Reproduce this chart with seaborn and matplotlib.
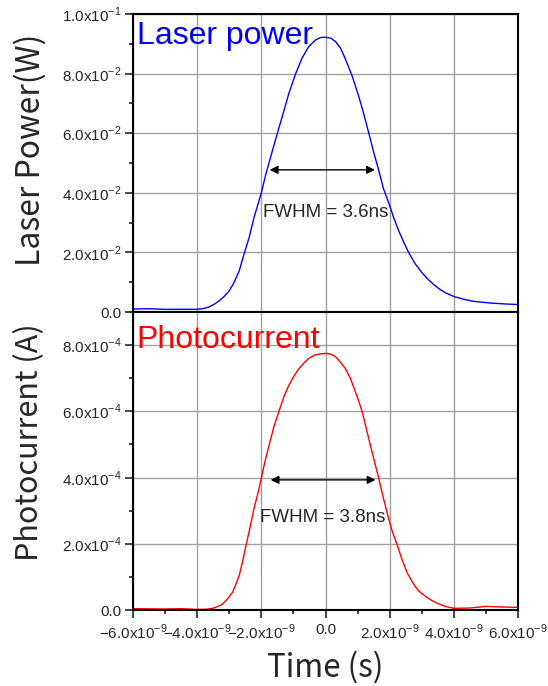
import numpy as np
import pandas as pd
import matplotlib
matplotlib.use("Agg")
import matplotlib.pyplot as plt
from matplotlib.ticker import FuncFormatter, MultipleLocator, AutoMinorLocator
import seaborn as sns

sns.set_style("ticks")
plt.rcParams['font.family'] = ['Liberation Sans', 'DejaVu Sans']
plt.rcParams['mathtext.fontset'] = 'custom'
plt.rcParams['mathtext.rm'] = 'Liberation Sans'

#### data (time in ns)
laser_t = [-6.0, -5.5, -5.0, -4.5, -4.04, -3.83, -3.63, -3.47, -3.32, -3.16, -3.0, -2.85,
           -2.69, -2.54, -2.38, -2.23, -2.0, -1.87, -1.71, -1.5, -1.35, -1.14, -0.93, -0.73,
           -0.52, -0.31, -0.16, 0.0, 0.16, 0.31, 0.47, 0.62, 0.83, 1.04, 1.19, 1.35,
           1.50, 1.66, 1.81, 2.0, 2.12, 2.28, 2.44, 2.59, 2.80, 3.0, 3.21, 3.42,
           3.58, 3.73, 4.0, 4.3, 4.6, 5.14, 5.6, 6.0]
laser_p = [0.0010, 0.0011, 0.0009, 0.0009, 0.0009, 0.0011, 0.0017, 0.0026, 0.0037, 0.0052, 0.0071, 0.0099,
           0.0138, 0.0194, 0.0250, 0.0316, 0.0400, 0.0458, 0.0520, 0.0600, 0.0655, 0.0734, 0.0800, 0.0852,
           0.0891, 0.0913, 0.0921, 0.0922, 0.0919, 0.0908, 0.0885, 0.0849, 0.0792, 0.0722, 0.0666, 0.0600,
           0.0537, 0.0475, 0.0413, 0.0357, 0.0318, 0.0273, 0.0234, 0.0200, 0.0161, 0.0133, 0.0108, 0.0088,
           0.0075, 0.0065, 0.0052, 0.0043, 0.0036, 0.0030, 0.0027, 0.0025]

pc_t = [-6.0, -5.0, -4.5, -4.04, -3.73, -3.52, -3.37, -3.21, -3.06, -2.90, -2.80, -2.69,
        -2.59, -2.47, -2.35, -2.23, -2.11, -2.0, -1.89, -1.76, -1.61, -1.45, -1.30, -1.14,
        -0.98, -0.83, -0.67, -0.52, -0.36, -0.21, 0.0, 0.16, 0.31, 0.47, 0.62, 0.78,
        0.93, 1.04, 1.14, 1.26, 1.40, 1.53, 1.66, 1.81, 1.97, 2.09, 2.23, 2.38,
        2.54, 2.72, 2.90, 3.16, 3.42, 3.73, 4.0, 4.5, 5.0, 5.5, 6.0]
pc_i = [4e-6, 3e-6, 4e-6, 2e-6, 2e-6, 5e-6, 1.0e-5, 1.8e-5, 3.3e-5, 5.3e-5, 7.6e-5, 1.04e-4,
        1.44e-4, 1.98e-4, 2.50e-4, 3.06e-4, 3.51e-4, 3.98e-4, 4.47e-4, 4.97e-4, 5.53e-4, 6.00e-4, 6.43e-4, 6.79e-4,
        7.07e-4, 7.29e-4, 7.46e-4, 7.60e-4, 7.69e-4, 7.73e-4, 7.75e-4, 7.73e-4, 7.65e-4, 7.48e-4, 7.29e-4, 6.99e-4,
        6.59e-4, 6.30e-4, 6.00e-4, 5.53e-4, 4.97e-4, 4.47e-4, 3.98e-4, 3.36e-4, 2.75e-4, 2.35e-4, 1.98e-4, 1.54e-4,
        1.14e-4, 8.2e-5, 5.8e-5, 3.8e-5, 2.3e-5, 1.1e-5, 5e-6, 6e-6, 1.1e-5, 9e-6, 8e-6]

df_laser = pd.DataFrame({'time': np.array(laser_t) * 1e-9, 'power': laser_p})
df_pc = pd.DataFrame({'time': np.array(pc_t) * 1e-9, 'current': pc_i})


def sci_fmt(v, pos):
    if abs(v) < 1e-15:
        return "0.0"
    exp = int(np.floor(np.log10(abs(v)) + 1e-9))
    mant = v / 10 ** exp
    s = "%.1f" % abs(mant)
    sign = "\u2212" if mant < 0 else ""
    return sign + s + "x10$^{\\mathregular{-%d}}$" % abs(exp)


fig = plt.figure(figsize=(5.48, 6.86), dpi=100)
ax1 = fig.add_axes([133/548, 1-312/686, 385/548, 298/686])
ax2 = fig.add_axes([133/548, 1-610/686, 385/548, 298/686], sharex=ax1)

sns.lineplot(data=df_laser, x='time', y='power', ax=ax1, color='#0000ff', lw=1)
sns.lineplot(data=df_pc, x='time', y='current', ax=ax2, color='#ff0000', lw=1)

ax1.set_ylim(0, 0.1)
ax2.set_ylim(0, 9e-4)
ax2.set_xlim(-6e-9, 6e-9)
ax1.yaxis.set_major_locator(MultipleLocator(0.02))
ax2.yaxis.set_major_locator(MultipleLocator(2e-4))
ax2.xaxis.set_major_locator(MultipleLocator(2e-9))

for ax in (ax1, ax2):
    ax.set_xlabel("")
    ax.set_ylabel("")
    ax.yaxis.set_minor_locator(AutoMinorLocator(2))
    ax.yaxis.set_major_formatter(FuncFormatter(sci_fmt))
    ax.grid(True, which='major', color='#a0a0a0', lw=1)
    ax.set_axisbelow(True)
    for sp in ax.spines.values():
        sp.set_visible(True)
        sp.set_linewidth(1.5)
        sp.set_color('black')
    ax.tick_params(axis='y', which='major', direction='out', length=6, width=1.2, labelsize=11, pad=2)
    ax.tick_params(axis='y', which='minor', direction='out', length=3, width=1.2)

ax2.xaxis.set_minor_locator(AutoMinorLocator(2))
ax2.xaxis.set_major_formatter(FuncFormatter(sci_fmt))
ax2.tick_params(axis='x', which='major', direction='out', length=6, width=1.2, labelsize=11, pad=3)
ax2.tick_params(axis='x', which='minor', direction='out', length=3, width=1.2)
ax1.tick_params(axis='x', which='both', length=0, labelbottom=False)

# panel titles
ax1.text(0.01, 0.975, "Laser power", transform=ax1.transAxes, color='#0000ff', fontsize=23, va='top', ha='left')
ax2.text(0.01, 0.955, "Photocurrent", transform=ax2.transAxes, color='#ff0000', fontsize=23, va='top', ha='left')

# FWHM arrows
ax1.annotate("", xy=(-1.74e-9, 0.0477), xytext=(1.54e-9, 0.0477),
             arrowprops=dict(arrowstyle="<|-|>", color='black', lw=1, mutation_scale=12, shrinkA=0, shrinkB=0))
ax1.text(0.0, 0.0335, "FWHM = 3.6ns", fontsize=13.5, ha='center', va='center')
ax2.annotate("", xy=(-1.71e-9, 3.93e-4), xytext=(1.56e-9, 3.93e-4),
             arrowprops=dict(arrowstyle="<|-|>", color='black', lw=1, mutation_scale=12, shrinkA=0, shrinkB=0))
ax2.text(-0.08e-9, 2.80e-4, "FWHM = 3.8ns", fontsize=13.5, ha='center', va='center')

# axis labels
lab = ['Noto Sans CJK JP', 'DejaVu Sans']
fig.text(30/548, 1-150/686, "Laser Power(W)", rotation=90, ha='center', va='center', fontsize=23, family=lab)
fig.text(30/548, 1-442/686, "Photocurrent (A)", rotation=90, ha='center', va='center', fontsize=22, family=lab)
fig.text(325/548, 1-667/686, "Time (s)", ha='center', va='center', fontsize=22.5, family=lab)

fig.savefig("out.png", dpi=100)
